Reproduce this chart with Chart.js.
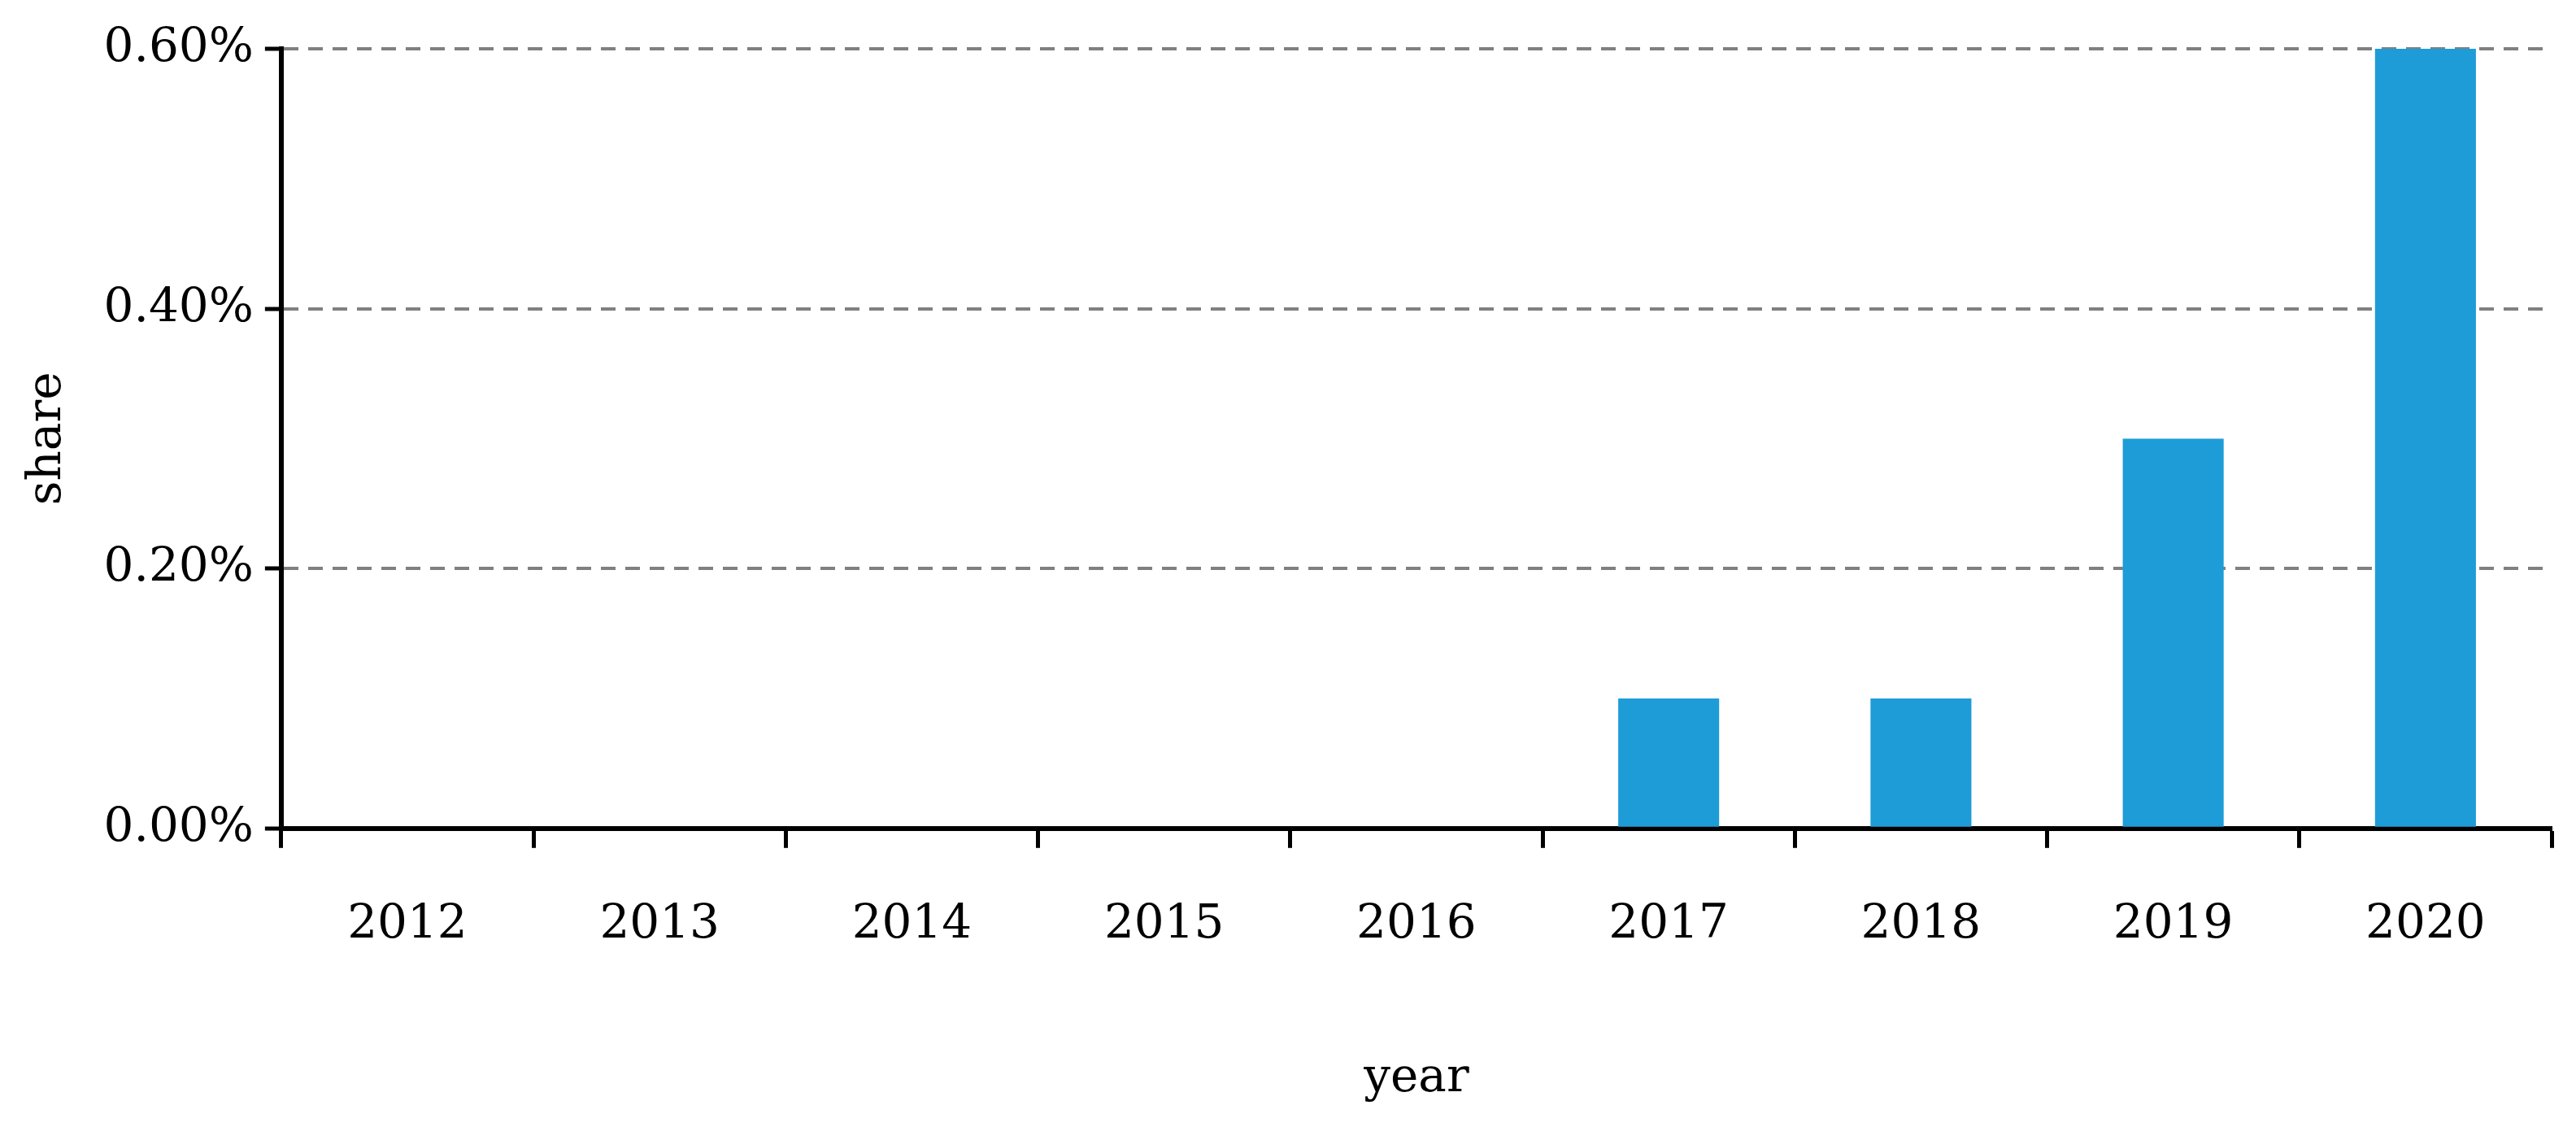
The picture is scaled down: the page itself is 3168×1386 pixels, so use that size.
<!DOCTYPE html>
<html>
<head>
<meta charset="utf-8">
<script src="https://cdn.jsdelivr.net/npm/chart.js@4"></script>
<style>
  body { margin: 0; background: #fff; }
</style>
</head>
<body>
<canvas id="myChart" width="3168" height="1386"></canvas>
<script>
var years = ["2012", "2013", "2014", "2015", "2016", "2017", "2018", "2019", "2020"];
var shareValues = [0, 0, 0, 0, 0, 0.1, 0.1, 0.3, 0.6];
var yTicks = [0, 0.2, 0.4, 0.6];

var fontFamily = "'DejaVu Serif', 'Liberation Serif', serif";

const ctx = document.getElementById('myChart').getContext('2d');
new Chart(ctx, {
    type: 'bar',
    data: {
        labels: years,
        datasets: [{
            label: 'share',
            data: shareValues,
            backgroundColor: '#1E9CD7',
            barPercentage: 0.4,
            categoryPercentage: 1
        }]
    },
    options: {
        responsive: false,
        devicePixelRatio: 1,
        animation: false,
        layout: { padding: { left: 20, right: 30, top: 60, bottom: 20 } },
        plugins: { legend: { display: false }, tooltip: { enabled: false } },
        scales: {
            x: {
                offset: true,
                grid: {
                    offset: true,
                    drawOnChartArea: false,
                    tickLength: 24,
                    tickColor: '#000',
                    tickWidth: 5
                },
                border: { color: '#000', width: 6 },
                ticks: { color: '#000', padding: 60, font: { family: fontFamily, size: 58 } },
                title: { display: true, text: 'year', color: '#000', padding: { top: 60 },
                    font: { family: fontFamily, size: 58 } }
            },
            y: {
                min: 0,
                max: 0.6,
                afterBuildTicks: function(axis) {
                    axis.ticks = yTicks.map(function(v){ return { value: v }; });
                },
                grid: {
                    color: function(c){ return c.tick && c.tick.value === 0 ? 'rgba(0,0,0,0)' : '#808080'; },
                    lineWidth: 4,
                    tickColor: '#000',
                    tickWidth: 5,
                    tickLength: 20,
                    tickBorderDash: [],
                    drawTicks: true
                },
                border: { color: '#000', width: 6, dash: [18, 12] },
                ticks: {
                    color: '#000',
                    padding: 14,
                    font: { family: fontFamily, size: 58 },
                    callback: function(v){ return v.toFixed(2) + '%'; }
                },
                title: { display: true, text: 'share', color: '#000', padding: { bottom: 20 },
                    font: { family: fontFamily, size: 58 } }
            }
        }
    }
});
</script>
</body>
</html>
